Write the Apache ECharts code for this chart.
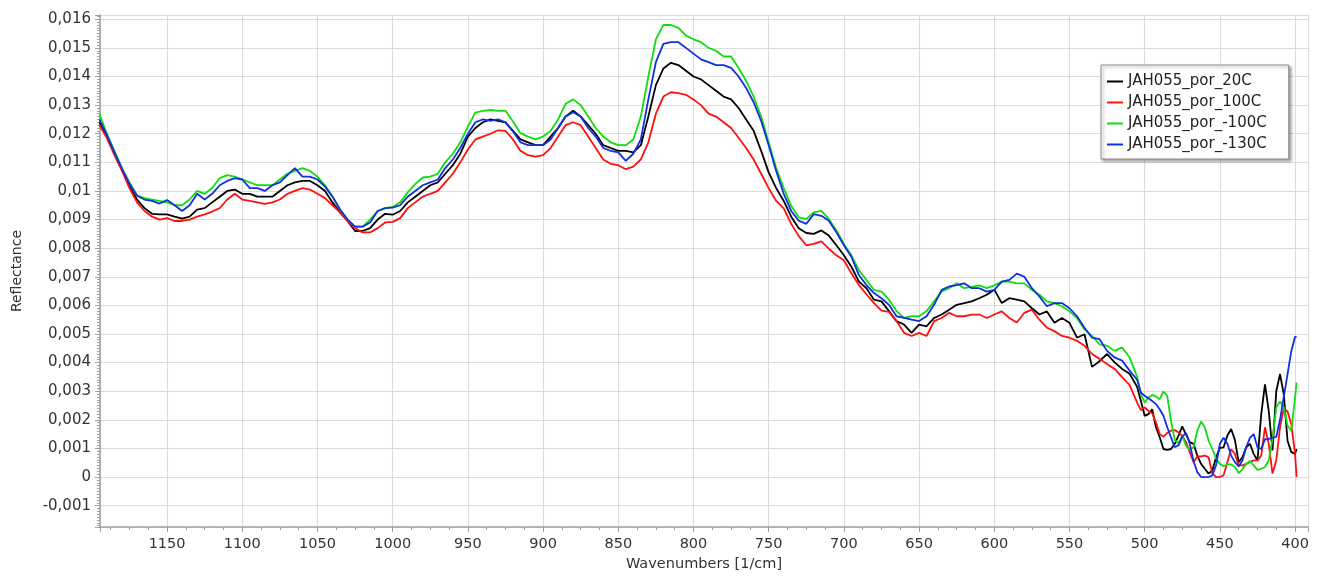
<!DOCTYPE html>
<html>
<head>
<meta charset="utf-8">
<title>Reflectance</title>
<script src="https://cdn.jsdelivr.net/npm/echarts@6/dist/echarts.min.js"></script>
<style>
  html, body { margin: 0; padding: 0; background: #fff; }
  #chart { width: 1321px; height: 577px; }
</style>
</head>
<body>
<div id="chart"></div>
<script>
// wavenumbers [1/cm], shared by all four spectra
var wavenumbers = [
  1195,1190,1185,1180,1175,1170,1165,1160,1155,1150,
  1145,1140,1135,1130,1125,1120,1115,1110,1105,1100,
  1095,1090,1085,1080,1075,1070,1065,1060,1055,1050,
  1045,1040,1035,1030,1025,1020,1015,1010,1005,1000,
  995,990,985,980,975,970,965,960,955,950,
  945,940,935,930,925,920,915,910,905,900,
  895,890,885,880,875,870,865,860,855,850,
  845,840,835,830,825,820,815,810,805,800,
  795,790,785,780,775,770,765,760,755,750,
  745,740,735,730,725,720,715,710,705,700,
  695,690,685,680,675,670,665,660,655,650,
  645,640,635,630,625,620,615,610,605,600,
  595,590,585,580,575,570,565,560,555,550,
  545,540,535,530,525,520,515,510,505,
  502.5,500,497.5,495,492.5,490,487.5,485,482.5,480,
  477.5,475,472.5,470,467.5,465,462.5,460,457.5,455,
  452.5,450,447.5,445,442.5,440,437.5,435,432.5,430,
  427.5,425,422.5,420,417.5,415,412.5,410,407.5,405,
  402.5,400,399
];

var por20C = [
  0.01240,0.01190,0.01130,0.01075,0.01015,0.00970,0.00940,0.00920,0.00918,0.00918,
  0.00910,0.00903,0.00910,0.00935,0.00940,0.00960,0.00980,0.01000,0.01005,0.00990,
  0.00990,0.00980,0.00980,0.00980,0.01000,0.01020,0.01030,0.01035,0.01035,0.01020,
  0.01000,0.00960,0.00925,0.00895,0.00860,0.00860,0.00870,0.00900,0.00920,0.00917,
  0.00930,0.00960,0.00980,0.01000,0.01020,0.01030,0.01060,0.01090,0.01130,0.01190,
  0.01220,0.01240,0.01250,0.01245,0.01240,0.01210,0.01180,0.01170,0.01160,0.01160,
  0.01190,0.01220,0.01260,0.01280,0.01260,0.01230,0.01200,0.01160,0.01150,0.01140,
  0.01140,0.01135,0.01160,0.01260,0.01370,0.01428,0.01448,0.01440,0.01420,0.01400,
  0.01390,0.01370,0.01350,0.01330,0.01320,0.01290,0.01250,0.01210,0.01140,0.01065,
  0.01010,0.00965,0.00910,0.00870,0.00853,0.00850,0.00862,0.00844,0.00810,0.00775,
  0.00735,0.00683,0.00660,0.00620,0.00614,0.00580,0.00545,0.00533,0.00504,0.00533,
  0.00527,0.00556,0.00568,0.00585,0.00602,0.00608,0.00614,0.00625,0.00637,0.00655,
  0.00608,0.00625,0.00620,0.00614,0.00590,0.00568,0.00579,0.00539,0.00556,0.00539,
  0.00487,0.00499,0.00385,0.00405,0.00430,0.00401,0.00378,0.00361,0.00315,
  0.00266,0.00214,0.00220,0.00237,0.00174,0.00139,0.00098,0.00095,0.00098,0.00116,
  0.00145,0.00177,0.00148,0.00122,0.00116,0.00075,0.00046,0.00029,0.00012,0.00023,
  0.00069,0.00102,0.00104,0.00145,0.00168,0.00130,0.00052,0.00069,0.00104,0.00116,
  0.00081,0.00058,0.00220,0.00324,0.00231,0.00093,0.00300,0.00360,0.00289,0.00127,
  0.00087,0.00081,0.00098
];

var por100C = [
  0.01230,0.01185,0.01125,0.01070,0.01010,0.00960,0.00930,0.00910,0.00900,0.00905,
  0.00895,0.00895,0.00900,0.00910,0.00918,0.00928,0.00940,0.00970,0.00990,0.00970,
  0.00965,0.00960,0.00955,0.00960,0.00970,0.00990,0.01000,0.01010,0.01005,0.00990,
  0.00975,0.00950,0.00925,0.00895,0.00870,0.00855,0.00855,0.00870,0.00890,0.00892,
  0.00905,0.00940,0.00960,0.00980,0.00990,0.01000,0.01030,0.01060,0.01100,0.01145,
  0.01180,0.01190,0.01200,0.01212,0.01210,0.01180,0.01140,0.01125,0.01120,0.01125,
  0.01150,0.01190,0.01230,0.01240,0.01230,0.01190,0.01150,0.01110,0.01095,0.01090,
  0.01076,0.01085,0.01110,0.01170,0.01270,0.01330,0.01345,0.01342,0.01336,0.01320,
  0.01300,0.01270,0.01260,0.01240,0.01220,0.01186,0.01150,0.01110,0.01060,0.01010,
  0.00965,0.00939,0.00885,0.00842,0.00810,0.00815,0.00824,0.00798,0.00775,0.00758,
  0.00712,0.00671,0.00639,0.00608,0.00582,0.00577,0.00545,0.00504,0.00493,0.00504,
  0.00493,0.00545,0.00556,0.00574,0.00562,0.00562,0.00568,0.00568,0.00556,0.00568,
  0.00579,0.00556,0.00540,0.00574,0.00585,0.00550,0.00522,0.00510,0.00493,0.00487,
  0.00476,0.00459,0.00430,0.00413,0.00395,0.00378,0.00349,0.00321,0.00260,
  0.00234,0.00243,0.00231,0.00223,0.00191,0.00150,0.00141,0.00154,0.00162,0.00164,
  0.00156,0.00144,0.00122,0.00087,0.00052,0.00072,0.00072,0.00075,0.00069,0.00012,
  0,0,0.00006,0.00052,0.00097,0.00081,0.00041,0.00041,0.00046,0.00052,
  0.00058,0.00058,0.00075,0.00174,0.00116,0.00012,0.00058,0.00174,0.00241,0.00229,
  0.00185,0.00081,0
];

var porMinus100C = [
  0.01270,0.01200,0.01140,0.01080,0.01030,0.00985,0.00975,0.00970,0.00965,0.00960,
  0.00950,0.00950,0.00970,0.01000,0.00990,0.01010,0.01045,0.01055,0.01050,0.01040,
  0.01030,0.01020,0.01020,0.01020,0.01040,0.01060,0.01070,0.01080,0.01070,0.01050,
  0.01020,0.00980,0.00935,0.00900,0.00875,0.00875,0.00900,0.00930,0.00940,0.00944,
  0.00960,0.00995,0.01024,0.01047,0.01050,0.01060,0.01100,0.01130,0.01170,0.01225,
  0.01274,0.01280,0.01283,0.01280,0.01280,0.01243,0.01202,0.01190,0.01180,0.01190,
  0.01210,0.01250,0.01305,0.01320,0.01300,0.01260,0.01220,0.01190,0.01170,0.01160,
  0.01160,0.01180,0.01260,0.01400,0.01530,0.01580,0.01580,0.01570,0.01543,0.01530,
  0.01520,0.01500,0.01490,0.01470,0.01470,0.01430,0.01385,0.01330,0.01260,0.01170,
  0.01080,0.01010,0.00948,0.00908,0.00902,0.00925,0.00930,0.00902,0.00862,0.00815,
  0.00775,0.00723,0.00689,0.00654,0.00648,0.00620,0.00580,0.00556,0.00562,0.00562,
  0.00580,0.00614,0.00648,0.00660,0.00677,0.00660,0.00665,0.00670,0.00660,0.00670,
  0.00683,0.00683,0.00677,0.00677,0.00654,0.00637,0.00614,0.00608,0.00597,0.00579,
  0.00556,0.00516,0.00493,0.00464,0.00459,0.00441,0.00453,0.00418,0.00350,
  0.00290,0.00260,0.00278,0.00287,0.00281,0.00272,0.00299,0.00284,0.00197,0.00130,
  0.00118,0.00145,0.00110,0.00095,0.00104,0.00162,0.00194,0.00174,0.00127,0.00098,
  0.00064,0.00046,0.00038,0.00044,0.00044,0.00035,0.00014,0.00027,0.00046,0.00056,
  0.00041,0.00025,0.00029,0.00035,0.00058,0.00133,0.00243,0.00264,0.00243,0.00179,
  0.00162,0.00278,0.00330
];

var porMinus130C = [
  0.01250,0.01195,0.01135,0.01078,0.01025,0.00983,0.00970,0.00965,0.00956,0.00968,
  0.00950,0.00930,0.00950,0.00990,0.00970,0.00990,0.01020,0.01035,0.01045,0.01040,
  0.01010,0.01010,0.01000,0.01020,0.01030,0.01055,0.01080,0.01050,0.01050,0.01040,
  0.01015,0.00980,0.00935,0.00900,0.00875,0.00875,0.00890,0.00930,0.00940,0.00942,
  0.00950,0.00980,0.01000,0.01020,0.01030,0.01040,0.01080,0.01110,0.01150,0.01200,
  0.01240,0.01250,0.01245,0.01250,0.01240,0.01208,0.01170,0.01160,0.01160,0.01160,
  0.01180,0.01220,0.01260,0.01275,0.01260,0.01220,0.01190,0.01150,0.01140,0.01135,
  0.01105,0.01130,0.01180,0.01320,0.01450,0.01514,0.01520,0.01520,0.01500,0.01480,
  0.01460,0.01450,0.01440,0.01440,0.01430,0.01400,0.01360,0.01310,0.01245,0.01160,
  0.01070,0.00990,0.00930,0.00896,0.00885,0.00919,0.00913,0.00896,0.00856,0.00810,
  0.00770,0.00706,0.00671,0.00643,0.00625,0.00602,0.00562,0.00556,0.00550,0.00545,
  0.00562,0.00602,0.00654,0.00666,0.00671,0.00677,0.00660,0.00660,0.00648,0.00654,
  0.00683,0.00689,0.00711,0.00700,0.00660,0.00631,0.00597,0.00608,0.00608,0.00590,
  0.00562,0.00522,0.00487,0.00482,0.00441,0.00418,0.00407,0.00372,0.00340,
  0.00295,0.00284,0.00275,0.00266,0.00255,0.00237,0.00214,0.00174,0.00139,0.00104,
  0.00111,0.00141,0.00154,0.00116,0.00056,0.00017,0,0,0,0.00006,
  0.00041,0.00116,0.00137,0.00116,0.00075,0.00052,0.00037,0.00058,0.00104,0.00137,
  0.00150,0.00104,0.00098,0.00132,0.00133,0.00137,0.00140,0.00200,0.00280,0.00360,
  0.00440,0.00490,0.00490
];

var seriesNames = ["JAH055_por_20C", "JAH055_por_100C", "JAH055_por_-100C", "JAH055_por_-130C"];
var seriesColors = ["#000000", "#ff1010", "#10dd10", "#1030e0"];
var seriesValues = [por20C, por100C, porMinus100C, porMinus130C];

var font = "DejaVu Sans";
var chart = echarts.init(document.getElementById("chart"));

function pairs(values) {
  return wavenumbers.map(function (w, i) { return [w, values[i]]; });
}

// 0.016 -> "0,016"
function commaLabel(v) {
  return String(+v.toFixed(4)).replace(".", ",");
}

var option = {
  animation: false,
  backgroundColor: "#fff",
  grid: { left: 100, right: 13, top: 15, bottom: 47 },
  legend: {
    orient: "vertical",
    left: 1101,
    top: 65,
    data: seriesNames,
    icon: "rect",
    itemWidth: 16,
    itemHeight: 2,
    itemGap: 6,
    padding: [9, 22, 7, 6],
    backgroundColor: "#fff",
    borderColor: "#8c8c8c",
    borderWidth: 1,
    borderRadius: 0,
    shadowColor: "rgba(0,0,0,0.35)",
    shadowBlur: 3,
    shadowOffsetX: 2,
    shadowOffsetY: 2,
    textStyle: { fontFamily: font, fontSize: 15, lineHeight: 14, color: "#222" }
  },
  xAxis: {
    type: "value",
    inverse: true,
    min: 391.4,
    max: 1194.6,
    splitNumber: 16,
    name: "Wavenumbers [1/cm]",
    nameLocation: "middle",
    nameGap: 27,
    nameTextStyle: { fontFamily: font, fontSize: 14.5, color: "#333" },
    axisLine: { onZero: false, lineStyle: { color: "#a0a0a0", width: 1.5 } },
    axisTick: { show: true, length: 5, lineStyle: { color: "#a0a0a0" } },
    minorTick: { show: true, splitNumber: 4, length: 3, lineStyle: { color: "#a0a0a0" } },
    splitLine: { show: true, lineStyle: { color: "#dcdcdc", width: 1.2 } },
    axisLabel: {
      fontFamily: font, fontSize: 14.5, color: "#333", margin: 10,
      showMinLabel: false, showMaxLabel: false,
      formatter: function (v) { return String(v); }
    }
  },
  yAxis: {
    type: "value",
    min: -0.00175,
    max: 0.01615,
    splitNumber: 18,
    name: "Reflectance",
    nameLocation: "middle",
    nameGap: 76,
    nameTextStyle: { fontFamily: font, fontSize: 14, color: "#333" },
    axisLine: { show: true, onZero: false, lineStyle: { color: "#a0a0a0", width: 1.5 } },
    axisTick: { show: true, length: 5, lineStyle: { color: "#a0a0a0" } },
    minorTick: { show: true, splitNumber: 10, length: 3, lineStyle: { color: "#a0a0a0" } },
    splitLine: { show: true, lineStyle: { color: "#dcdcdc", width: 1.2 } },
    axisLabel: {
      fontFamily: font, fontSize: 15, color: "#333", margin: 9,
      showMinLabel: false, showMaxLabel: false,
      formatter: commaLabel
    }
  },
  series: seriesNames.map(function (name, i) {
    return {
      name: name,
      type: "line",
      data: pairs(seriesValues[i]),
      showSymbol: false,
      symbol: "none",
      lineStyle: { color: seriesColors[i], width: 1.8 },
      itemStyle: { color: seriesColors[i] }
    };
  })
};

chart.setOption(option);
window.addEventListener("resize", chart.resize);
</script>
</body>
</html>
